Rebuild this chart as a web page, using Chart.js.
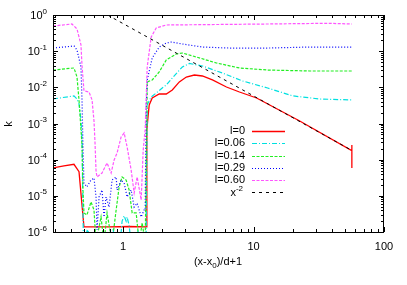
<!DOCTYPE html>
<html>
<head>
<meta charset="utf-8">
<script src="https://cdn.jsdelivr.net/npm/chart.js@4.4.1/dist/chart.umd.min.js"></script>
<style>
  html, body { margin: 0; padding: 0; background: #fff; }
  #wrap { width: 407px; height: 285px; position: relative; }
</style>
</head>
<body>
<div id="wrap"><canvas id="kChart"></canvas></div>
<script>
// values: x = (x-x0)/d+1, k on log-log axes
const redX = [0.29, 0.352, 0.420, 0.459, 0.501, 0.78, 1.112, 1.503, 1.52, 1.557, 1.585, 1.671, 1.891, 2.142, 2.382, 2.697, 3.052, 3.517, 4.053, 4.838, 6.195, 7.798, 10.55, 22.58, 56.7, 56.7, 56.7];
const redK = [5.9e-5, 6.7e-5, 7.45e-5, 4.65e-5, 1.38e-6, 1.38e-6, 1.42e-6, 1.38e-6, 6.6e-4, 1.72e-3, 3.25e-3, 5.07e-3, 6.54e-3, 6.54e-3, 8.44e-3, 0.0141, 0.0193, 0.0219, 0.0206, 0.0160, 0.0102, 0.00743, 0.00507, 0.00117, 1.77e-4, 2.55e-4, 5.89e-5];

const cyanX = [0.29, 0.420, 0.443, 0.459, 0.475, 0.484, 0.496, 0.53, 0.545, 0.56, 0.82, 0.84, 0.86, 0.95, 0.982, 1.018, 1.054, 1.073, 1.112, 1.15, 1.28, 1.30, 1.32, 1.50, 1.530, 1.641, 1.793, 1.995, 2.142, 2.382, 2.843, 3.218, 4.053, 5.773, 8.227, 12.81, 19.95, 32.2, 56.7];
const cyanK = [0.00476, 0.0058, 0.00476, 0.0035, 0.0013, 3.5e-4, 5e-7, 1.1e-6, 1.0e-6, 5e-7, 5e-7, 1.2e-6, 5e-7, 5e-7, 2.0e-6, 2.8e-6, 2.0e-6, 2.6e-6, 1.5e-6, 5e-7, 5e-7, 1.1e-6, 5e-7, 5e-7, 0.00325, 0.00541, 0.00697, 0.00959, 0.0116, 0.0181, 0.0365, 0.0457, 0.0389, 0.0249, 0.0150, 0.00959, 0.00580, 0.00476, 0.00447];

const greenX = [0.29, 0.420, 0.443, 0.459, 0.484, 0.492, 0.501, 0.528, 0.567, 0.598, 0.620, 0.677, 0.714, 0.753, 0.823, 0.884, 0.932, 0.982, 1.054, 1.112, 1.173, 1.259, 1.328, 1.400, 1.476, 1.515, 1.530, 1.671, 1.891, 2.142, 2.557, 2.843, 3.644, 5.188, 7.798, 12.81, 26.96, 56.7];
const greenK = [0.0301, 0.0343, 0.0193, 0.00447, 2.5e-4, 1.5e-5, 3.36e-6, 2.95e-6, 6.8e-6, 4.06e-6, 5e-7, 2.6e-6, 5e-7, 3.36e-6, 5e-7, 4.06e-6, 1.76e-5, 3.32e-5, 2.74e-5, 1.45e-5, 3.36e-6, 3.36e-6, 5e-7, 1.78e-6, 5e-7, 5e-4, 0.0141, 0.0160, 0.0266, 0.0570, 0.0835, 0.0890, 0.0690, 0.0471, 0.0343, 0.0301, 0.0283, 0.0283];

const blueX = [0.29, 0.420, 0.443, 0.475, 0.484, 0.492, 0.501, 0.528, 0.567, 0.598, 0.620, 0.631, 0.654, 0.689, 0.714, 0.740, 0.780, 0.823, 0.884, 0.899, 0.965, 1.018, 1.073, 1.152, 1.215, 1.281, 1.375, 1.450, 1.476, 1.500, 1.530, 1.671, 1.891, 2.142, 2.340, 2.843, 4.053, 6.534, 12.81, 26.96, 56.7];
const blueK = [0.122, 0.139, 0.108, 0.0365, 0.00447, 2.55e-4, 2.26e-5, 1.76e-5, 2.74e-5, 3.11e-5, 9.3e-6, 1.14e-6, 9.3e-6, 1.45e-5, 2.6e-6, 9.3e-6, 4.9e-6, 2.74e-5, 3.32e-5, 1.45e-5, 2.74e-5, 2.26e-5, 9.3e-6, 1.45e-5, 4.9e-6, 6.3e-6, 2.6e-6, 4.06e-6, 4e-6, 0.00237, 0.0160, 0.0648, 0.130, 0.168, 0.179, 0.158, 0.130, 0.122, 0.122, 0.130, 0.130];

const magX = [0.29, 0.405, 0.443, 0.475, 0.484, 0.501, 0.548, 0.578, 0.598, 0.609, 0.620, 0.631, 0.689, 0.753, 0.809, 0.853, 0.899, 0.965, 1.018, 1.073, 1.152, 1.215, 1.281, 1.375, 1.425, 1.476, 1.530, 1.641, 1.793, 2.142, 12.81, 36.44, 56.7];
const magK = [0.496, 0.564, 0.411, 0.15, 0.0395, 0.0080, 0.00743, 0.00447, 0.00117, 2.9e-4, 4.8e-5, 3.32e-5, 4.28e-5, 8.1e-5, 4.28e-5, 9.8e-5, 1.53e-4, 4.24e-4, 5.47e-4, 2.24e-4, 5.19e-5, 1.2e-5, 3.32e-5, 7.7e-6, 1.8e-4, 7e-4, 0.0365, 0.246, 0.437, 0.529, 0.564, 0.590, 0.564];

// x^-2 guide line (straight on log-log), end points
const powX = [0.76, 56.7];
const powK = [1.0, 1.8e-4];

const legendLabels = ['l=0', 'l=0.06', 'l=0.14', 'l=0.29', 'l=0.60'];
const yTickExps = ['0', '-1', '-2', '-3', '-4', '-5', '-6'];
const xTickLabels = ['1', '10', '100'];

const FONT = '"Liberation Sans", Arial, sans-serif';

function pts(xs, ys) {
    return xs.map((x, i) => ({ x: x, y: ys[i] }));
}

// base text with raised exponent (gnuplot enhanced text look)
function drawPow(ctx, base, exp, x, y, size, align) {
    ctx.font = size + 'px ' + FONT;
    const wb = ctx.measureText(base).width;
    ctx.font = Math.round(size * 0.75) + 'px ' + FONT;
    const we = ctx.measureText(exp).width;
    let left = x;
    if (align === 'right') left = x - wb - we;
    if (align === 'center') left = x - (wb + we) / 2;
    ctx.textAlign = 'left';
    ctx.textBaseline = 'middle';
    ctx.font = size + 'px ' + FONT;
    ctx.fillText(base, left, y);
    ctx.font = Math.round(size * 0.75) + 'px ' + FONT;
    ctx.fillText(exp, left + wb, y - size * 0.42);
}

const series = [
    { label: legendLabels[0], data: pts(redX, redK), color: '#ff0000', dash: [], width: 1.3 },
    { label: legendLabels[1], data: pts(cyanX, cyanK), color: '#00e0e0', dash: [5, 2, 1, 2], width: 1.2 },
    { label: legendLabels[2], data: pts(greenX, greenK), color: '#22ee22', dash: [3, 1.5], width: 1.2 },
    { label: legendLabels[3], data: pts(blueX, blueK), color: '#0000ff', dash: [1, 2], width: 1.2 },
    { label: legendLabels[4], data: pts(magX, magK), color: '#ff55ff', dash: [3, 1.5], width: 1.2 },
    { label: 'x^-2', data: pts(powX, powK), color: '#000000', dash: [3, 4], width: 1 }
];

// gnuplot-like frame: border, inward ticks, labels, key
const gnuFrame = {
    id: 'gnuFrame',
    afterDraw(chart) {
        const { ctx, chartArea: a, scales: { x, y } } = chart;
        ctx.save();
        ctx.strokeStyle = '#000';
        ctx.lineWidth = 1;
        ctx.setLineDash([]);
        ctx.beginPath();
        for (let e = -6; e <= 0; e++) {
            for (let m = 1; m <= 9; m++) {
                const v = m * Math.pow(10, e);
                if (v > 1.0000001) break;
                const py = Math.round(y.getPixelForValue(v)) + 0.5;
                const len = m === 1 ? 5 : 3;
                ctx.moveTo(a.left, py); ctx.lineTo(a.left + len, py);
                ctx.moveTo(a.right, py); ctx.lineTo(a.right - len, py);
            }
        }
        for (let e = -1; e <= 2; e++) {
            for (let m = 1; m <= 9; m++) {
                const v = m * Math.pow(10, e);
                if (v < x.min || v > x.max * 1.0000001) continue;
                const px = Math.round(x.getPixelForValue(v)) + 0.5;
                const len = m === 1 ? 5 : 3;
                ctx.moveTo(px, a.bottom); ctx.lineTo(px, a.bottom - len);
                ctx.moveTo(px, a.top); ctx.lineTo(px, a.top + len);
            }
        }
        ctx.stroke();
        ctx.strokeRect(Math.round(a.left) + 0.5, Math.round(a.top) + 0.5,
            Math.round(a.right - a.left) - 1, Math.round(a.bottom - a.top));

        ctx.fillStyle = '#000';
        // y tick labels
        yTickExps.forEach(exp => {
            const py = y.getPixelForValue(Math.pow(10, Number(exp)));
            drawPow(ctx, '10', exp, a.left - 6, py + 1, 11, 'right');
        });
        // x tick labels
        ctx.font = '11px ' + FONT;
        ctx.textAlign = 'center';
        ctx.textBaseline = 'middle';
        xTickLabels.forEach(t => {
            ctx.fillText(t, x.getPixelForValue(Number(t)), 247);
        });
        // x title with subscript
        const parts = ['(x-x', '0', ')/d+1'];
        ctx.font = '11px ' + FONT;
        const w0 = ctx.measureText(parts[0]).width;
        const w2 = ctx.measureText(parts[2]).width;
        ctx.font = '8px ' + FONT;
        const w1 = ctx.measureText(parts[1]).width;
        let tx = 218 - (w0 + w1 + w2) / 2;
        ctx.textAlign = 'left';
        ctx.font = '11px ' + FONT;
        ctx.fillText(parts[0], tx, 262);
        ctx.font = '8px ' + FONT;
        ctx.fillText(parts[1], tx + w0, 266);
        ctx.font = '11px ' + FONT;
        ctx.fillText(parts[2], tx + w0 + w1, 262);
        // y title
        ctx.save();
        ctx.translate(9, 124);
        ctx.rotate(-Math.PI / 2);
        ctx.textAlign = 'center';
        ctx.fillText('k', 0, 0);
        ctx.restore();

        // key
        const rows = [131, 143.3, 155.5, 167.7, 180, 192];
        series.forEach((s, i) => {
            const ry = rows[i];
            if (i < 5) {
                ctx.font = '11px ' + FONT;
                ctx.textAlign = 'right';
                ctx.textBaseline = 'middle';
                ctx.fillText(s.label, 245, ry);
            } else {
                drawPow(ctx, 'x', '-2', 243, ry + 1, 11, 'right');
            }
            ctx.strokeStyle = s.color;
            ctx.lineWidth = s.width;
            ctx.setLineDash(s.dash);
            ctx.beginPath();
            ctx.moveTo(252, Math.round(ry) + 0.5);
            ctx.lineTo(285, Math.round(ry) + 0.5);
            ctx.stroke();
        });
        ctx.restore();
    }
};

new Chart(document.getElementById('kChart').getContext('2d'), {
    type: 'line',
    data: {
        datasets: series.map((s, i) => ({
            label: s.label,
            data: s.data,
            borderColor: s.color,
            borderDash: s.dash,
            borderWidth: s.width,
            pointRadius: 0,
            tension: 0,
            fill: false,
            order: series.length - i
        }))
    },
    options: {
        responsive: true,
        maintainAspectRatio: false,
        animation: false,
        layout: { padding: { left: 53, right: 23, top: 15, bottom: 53 } },
        scales: {
            x: { type: 'logarithmic', min: 0.29, max: 100, display: false },
            y: { type: 'logarithmic', min: 1e-6, max: 1, display: false }
        },
        plugins: {
            legend: { display: false },
            tooltip: { enabled: false }
        }
    },
    plugins: [gnuFrame]
});
</script>
</body>
</html>
